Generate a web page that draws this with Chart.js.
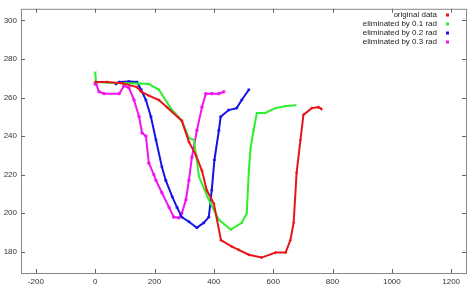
<!DOCTYPE html>
<html>
<head>
<meta charset="utf-8">
<script src="https://cdn.jsdelivr.net/npm/chart.js@4.4.0/dist/chart.umd.min.js"></script>
<style>
  html, body { margin: 0; padding: 0; background: #fff; }
  #wrap { width: 471px; height: 288px; position: relative; }
</style>
</head>
<body>
<div id="wrap"><canvas id="chart"></canvas></div>
<script>
// values
const labels = ['original data', 'eliminated by 0.1 rad', 'eliminated by 0.2 rad', 'eliminated by 0.3 rad'];

const originalX = [0, 40, 91, 141, 155, 181, 215, 242, 292, 316, 340, 360, 376, 400, 424, 461, 484, 518, 561, 608, 642, 658, 669, 679, 692, 702, 730, 753, 763];
const originalY = [268, 268, 267.4, 265.4, 263, 261, 258.7, 255, 248, 237, 230, 222, 212, 205, 186, 182.7, 181, 178.5, 177, 179.6, 179.6, 186, 195, 221, 238, 251, 254.5, 255, 254];

const rad01X = [0, 3, 50, 100, 150, 181, 215, 259, 292, 316, 333, 350, 383, 417, 457, 494, 511, 518, 524, 534, 545, 573, 608, 640, 675];
const rad01Y = [273, 268, 267.6, 267.4, 267.2, 267, 264, 253.5, 248, 239, 238, 219, 207, 196.6, 191.5, 195, 200, 222, 234, 243, 252, 252, 254.5, 255.5, 256];

const rad02X = [70, 81, 114, 141, 155, 171, 188, 205, 225, 238, 260, 276, 292, 316, 343, 366, 383, 393, 402, 417, 423, 450, 477, 494, 518];
const rad02Y = [267, 268, 268.3, 268, 264, 258.7, 250, 238, 224, 217, 208.5, 203, 198, 195.6, 192.5, 195, 198, 212, 227.6, 243, 250, 253.5, 254.5, 258.7, 264];

const rad03X = [0, 3, 13, 30, 81, 97, 114, 131, 148, 158, 171, 181, 198, 205, 225, 249, 265, 282, 292, 306, 316, 326, 343, 360, 373, 393, 417, 434];
const rad03Y = [267, 267, 263, 262, 262, 266, 265, 258.7, 250, 241.6, 240, 226, 220, 217, 210.6, 203, 198, 197.6, 200, 207, 217, 229, 243, 255, 262, 262, 262, 263];

const xTicks = [-200, 0, 200, 400, 600, 800, 1000, 1200];
const yTicks = [180, 200, 220, 240, 260, 280, 300];

const colors = ['#e8141a', '#2cf02c', '#1414e6', '#f014f0'];
const markers = ['cross', 'crossRot', 'star', 'rect'];

function toPoints(xs, ys) {
  return xs.map((x, i) => ({ x: x, y: ys[i] }));
}

const series = [
  toPoints(originalX, originalY),
  toPoints(rad01X, rad01Y),
  toPoints(rad02X, rad02Y),
  toPoints(rad03X, rad03Y)
];

const datasets = series.map((pts, i) => ({
  label: labels[i],
  data: pts,
  showLine: true,
  borderColor: colors[i],
  backgroundColor: 'rgba(0,0,0,0)',
  borderWidth: 2,
  pointStyle: markers[i],
  pointRadius: 1.5,
  pointBorderWidth: 1,
  pointBorderColor: colors[i],
  pointBackgroundColor: 'rgba(0,0,0,0)'
}));

// gnuplot style frame with inward ticks on all sides, plus legend in the top right
const framePlugin = {
  id: 'frame',
  afterDraw(chart) {
    const ctx = chart.ctx;
    const a = chart.chartArea;
    const xs = chart.scales.x;
    const ys = chart.scales.y;
    ctx.save();
    ctx.strokeStyle = '#888';
    ctx.lineWidth = 1;
    ctx.strokeRect(a.left + 0.5, a.top + 0.5, a.right - a.left, a.bottom - a.top);
    ctx.strokeStyle = '#666';
    ctx.beginPath();
    xTicks.forEach(v => {
      const px = Math.round(xs.getPixelForValue(v)) + 0.5;
      ctx.moveTo(px, a.bottom); ctx.lineTo(px, a.bottom - 4);
      ctx.moveTo(px, a.top); ctx.lineTo(px, a.top + 4);
    });
    yTicks.forEach(v => {
      const py = Math.round(ys.getPixelForValue(v)) + 0.5;
      ctx.moveTo(a.left, py); ctx.lineTo(a.left + 4, py);
      ctx.moveTo(a.right, py); ctx.lineTo(a.right - 4, py);
    });
    ctx.stroke();

    ctx.font = '8px "Liberation Sans", Arial, sans-serif';
    ctx.textAlign = 'right';
    ctx.textBaseline = 'middle';
    chart.data.datasets.forEach((ds, i) => {
      const y = 15 + i * 9;
      ctx.fillStyle = '#222';
      ctx.fillText(ds.label, 437, y);
      ctx.fillStyle = ds.borderColor;
      ctx.fillRect(446, y - 1.5, 3, 3);
    });
    ctx.restore();
  }
};

new Chart(document.getElementById('chart'), {
  type: 'scatter',
  data: { datasets: datasets },
  options: {
    responsive: true,
    maintainAspectRatio: false,
    animation: false,
    layout: { padding: { top: 8, right: 4, left: 0, bottom: 0 } },
    plugins: {
      legend: { display: false },
      tooltip: { enabled: false }
    },
    scales: {
      x: {
        type: 'linear',
        min: -250,
        max: 1250,
        afterBuildTicks: scale => { scale.ticks = xTicks.map(v => ({ value: v })); },
        afterFit: scale => { scale.height = 15; },
        grid: { display: false, drawTicks: false },
        border: { display: false },
        ticks: {
          color: '#333',
          padding: 4,
          font: { size: 8, family: '"Liberation Sans", Arial, sans-serif' },
          callback: value => String(value)
        }
      },
      y: {
        type: 'linear',
        min: 169,
        max: 306,
        afterBuildTicks: scale => { scale.ticks = yTicks.map(v => ({ value: v })); },
        afterFit: scale => { scale.width = 21; },
        grid: { display: false, drawTicks: false },
        border: { display: false },
        ticks: {
          color: '#333',
          padding: 4,
          font: { size: 8, family: '"Liberation Sans", Arial, sans-serif' },
          callback: value => String(value)
        }
      }
    }
  },
  plugins: [framePlugin]
});
</script>
</body>
</html>
